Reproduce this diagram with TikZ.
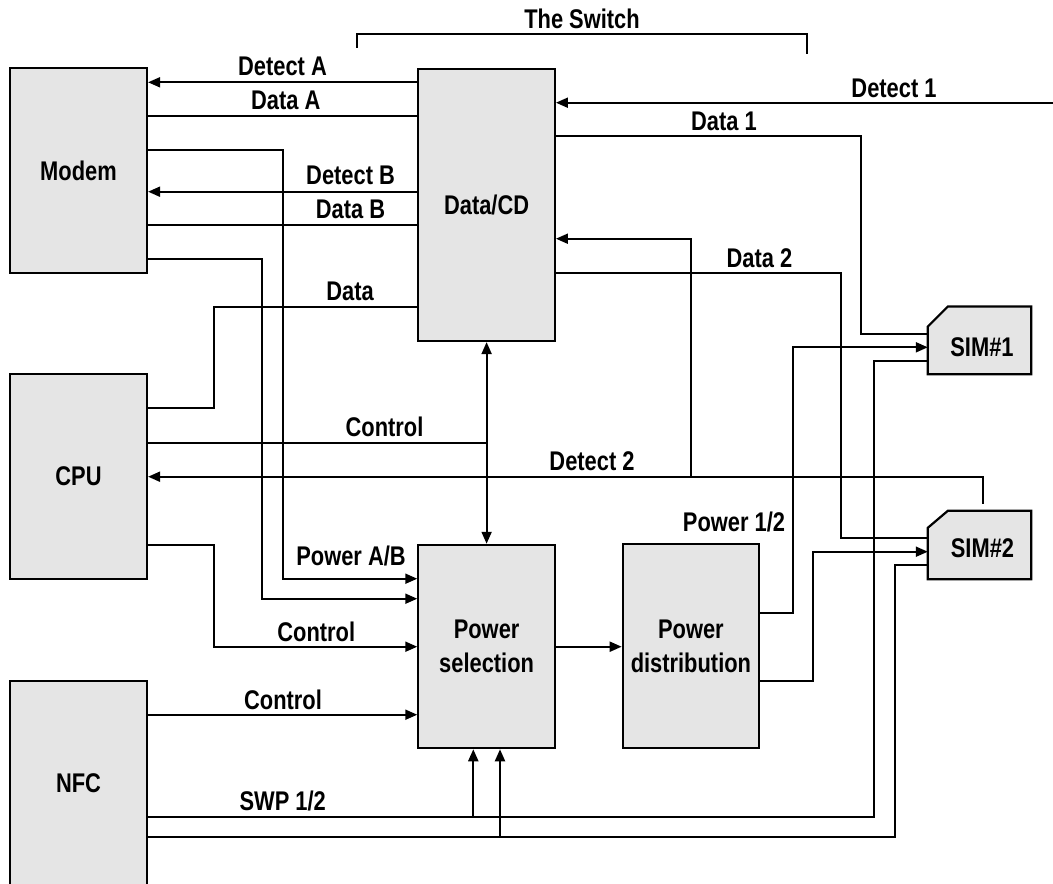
\documentclass[tikz,border=0pt]{standalone}
\usepackage{fontspec}
\setmainfont{Liberation Sans}[FakeStretch=0.81]
\usetikzlibrary{arrows.meta}
\definecolor{boxgray}{RGB}{229,229,229}
\begin{document}
\begin{tikzpicture}[x=1pt,y=-1pt,
  font=\fontsize{27}{34}\selectfont\bfseries,
  box/.style={draw=black, line width=2.2pt, fill=boxgray, inner sep=0pt, align=center},
  simbox/.style={draw=none, inner sep=0pt, minimum width=103pt},
  lbl/.style={inner sep=0pt, anchor=base},
  wire/.style={line width=2pt},
  arr/.style={wire,-{Triangle[length=12pt,width=10pt]}},
  darr/.style={wire,{Triangle[length=12pt,width=10pt]}-{Triangle[length=12pt,width=10pt]}}]
\useasboundingbox (0,0) rectangle (1053,884);
\clip (0,0) rectangle (1053,884);

% main boxes
\node[box, minimum width=137pt, minimum height=204.4pt] (modem) at (78.5,170.5) {Modem};
\node[box, minimum width=137pt, minimum height=205pt] (cpu) at (78.5,476.5) {CPU};
\node[box, minimum width=137pt, minimum height=205pt] (nfc) at (78.5,783.5) {NFC};
\node[box, minimum width=136.5pt, minimum height=272pt] (dcd) at (486.6,205) {Data/CD};
\node[box, minimum width=136.5pt, minimum height=203.3pt] (psel) at (486.6,646.5) {Power\\selection};
\node[box, minimum width=136.3pt, minimum height=204pt] (pdist) at (690.9,646.3) {Power\\distribution};

% SIM cards
\node[simbox, minimum height=67.3pt] (sim1) at (979.5,340.35) {};
\draw[line width=2.2pt, fill=boxgray] (sim1.south west) -- ([yshift=-20pt]sim1.north west) -- ([xshift=20pt]sim1.north west) -- (sim1.north east) -- (sim1.south east) -- cycle;
\node[inner sep=0pt] (sim1t) at ([xshift=2.5pt,yshift=-6.4pt]sim1.center) {SIM\#1};
\node[simbox, minimum height=68pt] (sim2) at (979.5,545) {};
\draw[line width=2.2pt, fill=boxgray] (sim2.south west) -- ([yshift=-17pt]sim2.north west) -- ([xshift=20pt]sim2.north west) -- (sim2.north east) -- (sim2.south east) -- cycle;
\node[inner sep=0pt] (sim2t) at ([xshift=3pt,yshift=-3pt]sim2.center) {SIM\#2};

% bracket
\draw[wire] (357.3,47.7) -- (357.3,34.3) -- (807,34.3) -- (807,54.3);

% Modem connections
\draw[arr] (dcd.west |- 0,82.3) -- (modem.east |- 0,82.3);
\draw[wire] (modem.east |- 0,116) -- (dcd.west |- 0,116);
\draw[arr] (modem.east |- 0,150) -| (282.7,578.7) -- (psel.west |- 0,578.7);
\draw[arr] (dcd.west |- 0,191.7) -- (modem.east |- 0,191.7);
\draw[wire] (modem.east |- 0,225) -- (dcd.west |- 0,225);
\draw[arr] (modem.east |- 0,259) -| (262.3,598.7) -- (psel.west |- 0,598.7);

% CPU connections
\draw[wire] (cpu.east |- 0,408) -| (214.3,306.7) -- (dcd.west |- 0,306.7);
\draw[wire] (cpu.east |- 0,442.7) -- (dcd.south |- 0,442.7);
\draw[darr] (dcd.south) -- (psel.north);
\draw[arr] ([xshift=3.5pt,yshift=7pt]sim2.north) -- (983,476.7) -- (cpu.east |- 0,476.7);
\draw[arr] (690.7,476.7) -- (690.7,238.7) -- (dcd.east |- 0,238.7);
\draw[arr] (cpu.east |- 0,545) -| (214.3,646.7) -- (psel.west |- 0,646.7);

% NFC connections
\draw[arr] (nfc.east |- 0,714.7) -- (psel.west |- 0,714.7);
\draw[wire] (nfc.east |- 0,816.7) -| (874.3,360.7) -- (sim1.west |- 0,360.7);
\draw[wire] (nfc.east |- 0,837.3) -| (895.3,565) -- (sim2.west |- 0,565);
\draw[arr] (473.3,816.7) -- (psel.south -| 473.3,0);
\draw[arr] (500,837.3) -- (psel.south -| 500,0);

% right side
\coordinate (d1) at (1053,102.7);
\draw[arr] (d1) -- (dcd.east |- 0,102.7);
\draw[wire] (dcd.east |- 0,136) -| (861,334) -- (sim1.west |- 0,334);
\draw[wire] (dcd.east |- 0,272.7) -| (840.5,537.7) -- (sim2.west |- 0,537.7);
\draw[arr] (psel.east |- 0,646.7) -- (pdist.west |- 0,646.7);
\draw[arr] (pdist.east |- 0,612.7) -| (792.7,347.3) -- (sim1.west |- 0,347.3);
\draw[arr] (pdist.east |- 0,680.7) -| (813.3,551.7) -- (sim2.west |- 0,551.7);

% labels
\node[lbl] (lsw) at (582,28) {The Switch};
\node[lbl] (lda) at (282.5,75) {Detect A};
\node[lbl] (ldata) at (285.7,109.3) {Data A};
\node[lbl] (ldb) at (350.6,184) {Detect B};
\node[lbl] (ldatb) at (350.5,218) {Data B};
\node[lbl] (ldat) at (350,300) {Data};
\node[lbl] (ld1) at (894,97) {Detect 1};
\node[lbl] (ldat1) at (724,130) {Data 1};
\node[lbl] (ldat2) at (759.5,267) {Data 2};
\node[lbl] (lctl1) at (384.5,436.7) {Control};
\node[lbl] (ld2) at (592,470) {Detect 2};
\node[lbl] (lpab) at (351,565) {Power A/B};
\node[lbl] (lctl2) at (316.3,641) {Control};
\node[lbl] (lctl3) at (283,709) {Control};
\node[lbl] (lswp) at (282.7,810) {SWP 1/2};
\node[lbl] (lp12) at (734,531.7) {Power 1/2};
\end{tikzpicture}
\end{document}
